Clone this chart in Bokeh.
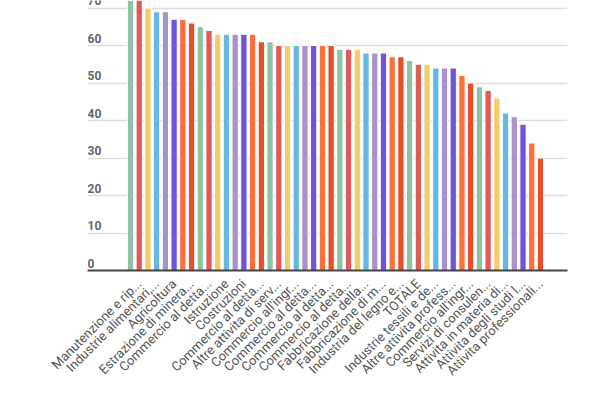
import math
from bokeh.plotting import figure
from bokeh.models import FixedTicker, Label, Range1d
from bokeh.embed import file_html
from bokeh.resources import INLINE

values = [78, 75, 70, 69, 69, 67, 67, 66, 65, 64, 63, 63, 63, 63, 63, 61,
          61, 60, 60, 60, 60, 60, 60, 60, 59, 59, 59, 58, 58, 58, 57, 57,
          56, 55, 55, 54, 54, 54, 52, 50, 49, 48, 46, 42, 41, 39, 34, 30]

tick_labels = [
    "Manutenzione e rip...", "Industrie alimentari,...", "Agricoltura",
    "Estrazione di minera...", "Commercio al detta...", "Istruzione",
    "Costruzioni", "Commercio al detta...", "Altre attivita di serv...",
    "Commercio all'ingr...", "Commercio al detta...", "Commercio al detta...",
    "Commercio al detta...", "Fabbricazione della...", "Fabbricazione di m...",
    "Industria del legno e...", "TOTALE", "Industrie tessili e de...",
    "Altre attivita profess...", "Commercio all'ingr...", "Servizi di consulen...",
    "Attivita in materia di...", "Attivita degli studi l...", "Attivita professionali...",
]

y_ticks = [0, 10, 20, 30, 40, 50, 60, 70]

palette = ["#8ec4a6", "#e05a5a", "#f2cd6c", "#63b8e6",
           "#ab93c7", "#6f54d9", "#ff6f3c", "#e4502a"]

xs = list(range(len(values)))
colors = [palette[i % len(palette)] for i in xs]
label_pos = [2 * i + 1 for i in range(len(tick_labels))]

p = figure(width=592, height=395, output_backend="svg", toolbar_location=None,
           x_range=Range1d(-4.93, 50.1), y_range=Range1d(0, 72.0),
           y_axis_location=None, min_border_left=87, min_border_right=25,
           min_border_top=0, min_border_bottom=125, outline_line_color=None)

p.vbar(x=xs, top=values, width=0.72, fill_color=colors, line_color="white",
       line_width=1)

p.xgrid.grid_line_color = None
p.ygrid.ticker = FixedTicker(ticks=y_ticks)
p.ygrid.grid_line_color = "#dddddd"
p.ygrid.grid_line_width = 1.5

for t in y_ticks:
    p.add_layout(Label(x=0, x_units="screen", y=t, text=str(t),
                       text_font="Roboto", text_font_size="12px",
                       text_color="#666666", text_font_style="bold",
                       text_baseline="bottom", text_align="left", y_offset=3))

ax = p.xaxis[0]
ax.ticker = FixedTicker(ticks=label_pos)
ax.major_label_overrides = {pos: lab for pos, lab in zip(label_pos, tick_labels)}
ax.major_label_orientation = math.pi / 4
ax.major_label_text_font = "Roboto"
ax.major_label_text_font_size = "13px"
ax.major_label_text_color = "#555555"
ax.major_label_standoff = 5
ax.axis_line_color = "#444444"
ax.axis_line_width = 2
ax.major_tick_line_color = None
ax.minor_tick_line_color = None

open("out.html", "w").write(file_html(p, INLINE))
